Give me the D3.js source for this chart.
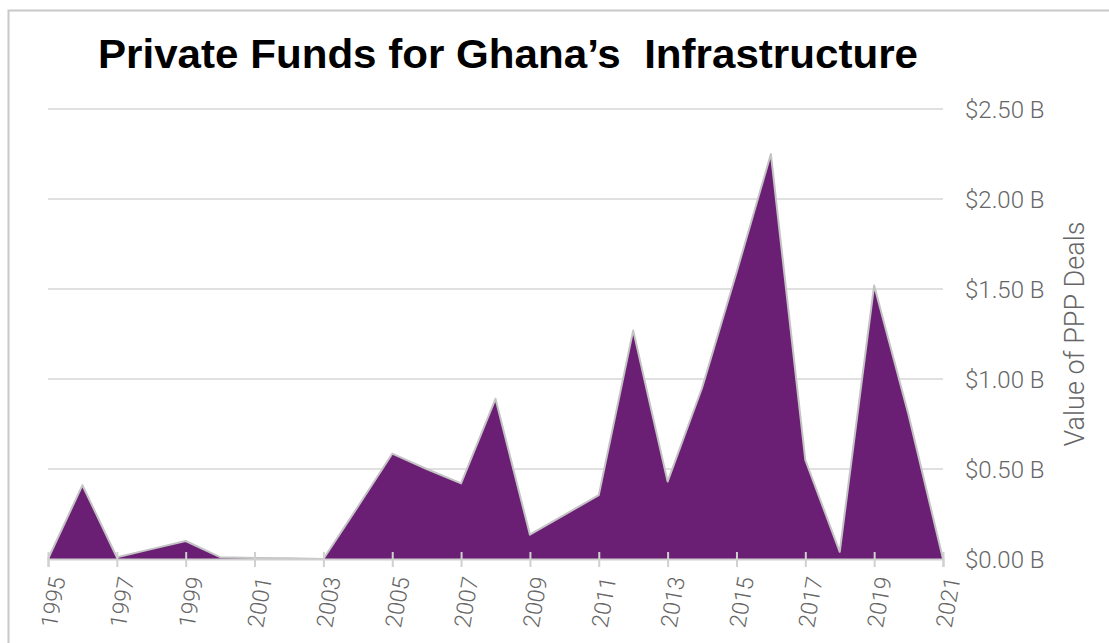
<!DOCTYPE html>
<html>
<head>
<meta charset="utf-8">
<script src="https://cdn.jsdelivr.net/npm/d3@7"></script>
<style>
  body { margin: 0; background: #fff; }
  svg { display: block; }
</style>
</head>
<body>
<svg id="chart"></svg>
<script>
const years = [1995, 1996, 1997, 1998, 1999, 2000, 2001, 2002, 2003, 2004, 2005, 2006, 2007,
  2008, 2009, 2010, 2011, 2012, 2013, 2014, 2015, 2016, 2017, 2018, 2019, 2020, 2021];
const values = [0, 0.41, 0.01, 0.055, 0.10, 0.01, 0.006, 0.004, 0, 0.29, 0.585, 0.50, 0.42,
  0.89, 0.135, 0.245, 0.355, 1.27, 0.43, 0.95, 1.59, 2.25, 0.55, 0.04, 1.52, 0.8, 0];
const xTicks = [1995, 1997, 1999, 2001, 2003, 2005, 2007, 2009, 2011, 2013, 2015, 2017, 2019, 2021];
const yTicks = [0, 0.5, 1.0, 1.5, 2.0, 2.5];
const title = "Private Funds for Ghana\u2019s  Infrastructure";
const yLabel = "Value of PPP Deals";

const W = 1109, H = 643;
const data = years.map((y, i) => ({ year: y, value: values[i] }));

const svg = d3.select("#chart")
  .attr("width", W)
  .attr("height", H);

// frame
svg.append("rect")
  .attr("x", 8.5).attr("y", 10.5)
  .attr("width", W + 10).attr("height", H + 10)
  .attr("fill", "#fff")
  .attr("stroke", "#c8c8c8")
  .attr("stroke-width", 2);

const x = d3.scaleLinear().domain([1995, 2021]).range([48, 943]);
const y = d3.scaleLinear().domain([0, 2.5]).range([559, 109]);

// gridlines
svg.append("g")
  .selectAll("line")
  .data(yTicks)
  .join("line")
  .attr("x1", x(1995)).attr("x2", x(2021))
  .attr("y1", d => y(d)).attr("y2", d => y(d))
  .attr("stroke", "#d6d6d6")
  .attr("stroke-width", 1.5);

// area
const area = d3.area()
  .x(d => x(d.year))
  .y0(y(0))
  .y1(d => y(d.value));

svg.append("path")
  .datum(data)
  .attr("fill", "#6a1f74")
  .attr("d", area);

const line = d3.line()
  .x(d => x(d.year))
  .y(d => y(d.value));

svg.append("path")
  .datum(data)
  .attr("fill", "none")
  .attr("stroke", "#c4c4c4")
  .attr("stroke-width", 2)
  .attr("stroke-linejoin", "round")
  .attr("d", line);

// x axis
const xAxis = svg.append("g")
  .attr("transform", `translate(0,${y(0)})`)
  .call(d3.axisBottom(x).tickValues(xTicks).tickFormat(d3.format("d")).tickSize(8))
  .call(g => g.select(".domain").attr("stroke", "#d0d0d0").attr("stroke-width", 2))
  .call(g => g.selectAll(".tick line").attr("stroke", "#d0d0d0").attr("stroke-width", 2).attr("y1", -7));

xAxis.selectAll("text")
  .attr("fill", "#666")
  .attr("font-family", "Roboto, 'Liberation Sans', sans-serif")
  .attr("font-weight", 300)
  .attr("font-size", 23)
  .attr("text-anchor", "end")
  .attr("transform", "translate(9,18) rotate(-80)")
  .attr("y", 0).attr("dy", "0.35em").attr("x", 0);

// y axis labels (right)
svg.append("g")
  .selectAll("text")
  .data(yTicks)
  .join("text")
  .attr("x", 965)
  .attr("y", d => y(d))
  .attr("dy", "0.36em")
  .attr("fill", "#666")
  .attr("font-family", "Roboto, 'Liberation Sans', sans-serif")
  .attr("font-weight", 300)
  .attr("font-size", 24)
  .text(d => "$" + d3.format(".2f")(d) + " B");

svg.append("text")
  .attr("transform", `translate(1084,334) rotate(-90)`)
  .attr("text-anchor", "middle")
  .attr("fill", "#666")
  .attr("font-family", "Roboto, 'Liberation Sans', sans-serif")
  .attr("font-weight", 300)
  .attr("font-size", 27)
  .text(yLabel);

// title
svg.append("text")
  .attr("x", 508)
  .attr("y", 68)
  .attr("text-anchor", "middle")
  .attr("fill", "#000")
  .attr("font-family", "'Liberation Sans', Arial, sans-serif")
  .attr("font-weight", 700)
  .attr("font-size", 40)
  .attr("textLength", 820)
  .attr("lengthAdjust", "spacingAndGlyphs")
  .style("white-space", "pre")
  .text(title);
</script>
</body>
</html>
